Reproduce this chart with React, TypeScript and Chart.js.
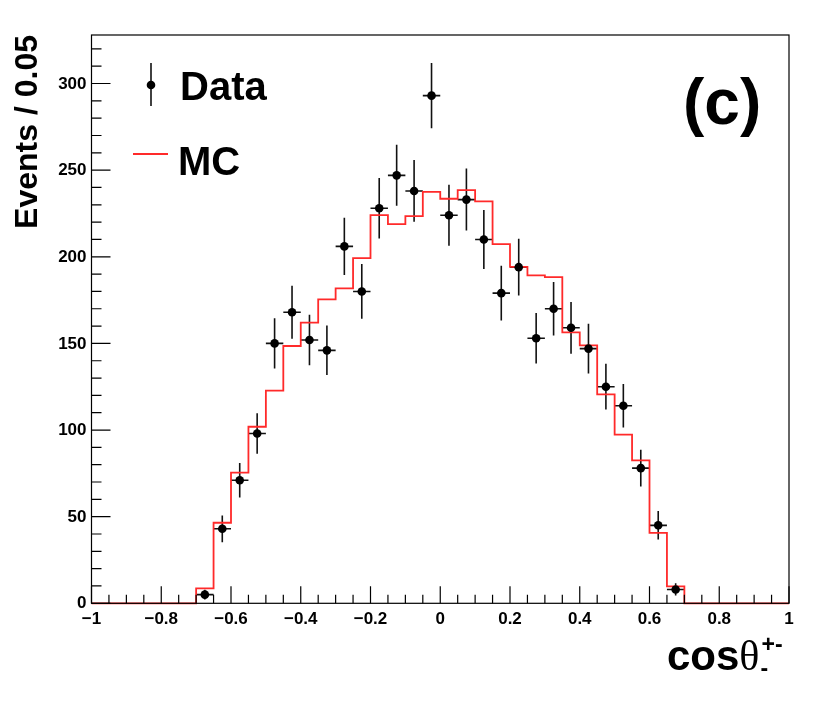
import React, { useEffect, useRef } from 'react';
import Chart from 'chart.js/auto';

// bins of 0.05 in cos(theta), only the filled range -0.7 .. 0.7
const binLow = [
  -0.7, -0.65, -0.6, -0.55, -0.5, -0.45, -0.4, -0.35, -0.3, -0.25, -0.2, -0.15, -0.1, -0.05,
  0, 0.05, 0.1, 0.15, 0.2, 0.25, 0.3, 0.35, 0.4, 0.45, 0.5, 0.55, 0.6, 0.65,
];
const dataCenters = [
  -0.675, -0.625, -0.575, -0.525, -0.475, -0.425, -0.375, -0.325, -0.275, -0.225, -0.175, -0.125, -0.075, -0.025,
  0.025, 0.075, 0.125, 0.175, 0.225, 0.275, 0.325, 0.375, 0.425, 0.475, 0.525, 0.575, 0.625, 0.675,
];
const dataCounts = [
  5, 43, 71, 98, 150, 168, 152, 146, 206, 180, 228, 247, 238, 293,
  224, 233, 210, 179, 194, 153, 170, 159, 147, 125, 114, 78, 45, 8,
];
const dataErrors = [
  2.8, 7.7, 10, 11.7, 14.5, 15.3, 14.6, 14.3, 16.5, 15.8, 17.5, 17.6, 17.8, 18.8,
  17.6, 17.9, 17, 15.8, 16.4, 14.6, 15.4, 14.9, 14.3, 13.2, 12.6, 10.6, 8.2, 3.5,
];
const mcCounts = [
  8.6, 46.5, 75.4, 101.9, 122.7, 148.5, 162, 175.4, 181.8, 199.2, 224, 218.8, 223.5, 237.5,
  233.5, 238.5, 232, 207.3, 194.2, 189.3, 188.3, 156.4, 148.9, 120.6, 97.3, 82.5, 40.7, 9.8,
];

const xTickValues = [-1, -0.8, -0.6, -0.4, -0.2, 0, 0.2, 0.4, 0.6, 0.8, 1];
const xTickLabels = ['−1', '−0.8', '−0.6', '−0.4', '−0.2', '0', '0.2', '0.4', '0.6', '0.8', '1'];
const yTickValues = [0, 50, 100, 150, 200, 250, 300];

const SANS = "'Liberation Sans', Arial, Helvetica, sans-serif";
const SERIF = "'Liberation Serif', 'Times New Roman', serif";

const rootStyle = {
  id: 'rootStyle',
  beforeDatasetsDraw(chart: any) {
    const { ctx } = chart;
    const x = chart.scales.x;
    const y = chart.scales.y;
    ctx.save();
    ctx.strokeStyle = '#111';
    ctx.lineWidth = 1.6;
    dataCenters.forEach((c, i) => {
      const px = x.getPixelForValue(c);
      const py = y.getPixelForValue(dataCounts[i]);
      const hi = y.getPixelForValue(dataCounts[i] + dataErrors[i]);
      const lo = y.getPixelForValue(Math.max(0, dataCounts[i] - dataErrors[i]));
      ctx.beginPath();
      ctx.moveTo(px, hi);
      ctx.lineTo(px, lo);
      ctx.moveTo(x.getPixelForValue(c - 0.025), py);
      ctx.lineTo(x.getPixelForValue(c + 0.025), py);
      ctx.stroke();
    });
    ctx.restore();
  },
  afterDraw(chart: any) {
    const { ctx, chartArea } = chart;
    const x = chart.scales.x;
    const y = chart.scales.y;
    const { left, right, top, bottom } = chartArea;
    ctx.save();

    // frame
    ctx.strokeStyle = '#000';
    ctx.lineWidth = 1.2;
    ctx.strokeRect(left, top, right - left, bottom - top);

    // x ticks (inward)
    ctx.beginPath();
    for (let k = 0; k <= 40; k++) {
      const v = -1 + k * 0.05;
      const px = x.getPixelForValue(v);
      const len = k % 4 === 0 ? 17 : 8.5;
      ctx.moveTo(px, bottom);
      ctx.lineTo(px, bottom - len);
    }
    // y ticks
    for (let v = 0; v <= 320; v += 10) {
      const py = y.getPixelForValue(v);
      const len = v % 50 === 0 ? 19 : 10;
      ctx.moveTo(left, py);
      ctx.lineTo(left + len, py);
    }
    ctx.stroke();

    // tick labels
    ctx.fillStyle = '#000';
    ctx.font = `bold 17px ${SANS}`;
    ctx.textAlign = 'center';
    ctx.textBaseline = 'alphabetic';
    xTickValues.forEach((v, i) => {
      ctx.fillText(xTickLabels[i], x.getPixelForValue(v), 623.5);
    });
    ctx.textAlign = 'right';
    ctx.textBaseline = 'middle';
    yTickValues.forEach((v) => {
      ctx.fillText(String(v), left - 5, y.getPixelForValue(v) + 0.5);
    });

    // y title
    ctx.save();
    ctx.translate(37, top);
    ctx.rotate(-Math.PI / 2);
    ctx.textAlign = 'right';
    ctx.textBaseline = 'alphabetic';
    ctx.font = `bold 32px ${SANS}`;
    ctx.fillText('Events / 0.05', 0, 0);
    ctx.restore();

    // x title: cos theta with sub/superscripts
    ctx.textAlign = 'left';
    ctx.textBaseline = 'alphabetic';
    ctx.font = `bold 42px ${SANS}`;
    ctx.fillText('cos', 667, 670);
    const cosW = ctx.measureText('cos').width;
    ctx.font = `42px ${SERIF}`;
    ctx.fillText('θ', 667 + cosW, 670);
    const thW = ctx.measureText('θ').width;
    ctx.font = `bold 23px ${SANS}`;
    ctx.fillText('+-', 667 + cosW + thW + 2, 652);
    ctx.fillText('-', 667 + cosW + thW + 1, 676);

    // legend
    ctx.strokeStyle = '#111';
    ctx.lineWidth = 1.6;
    ctx.beginPath();
    ctx.moveTo(151, 63);
    ctx.lineTo(151, 106);
    ctx.stroke();
    ctx.beginPath();
    ctx.arc(151, 85, 4.3, 0, Math.PI * 2);
    ctx.fill();
    ctx.strokeStyle = '#ff2a2a';
    ctx.lineWidth = 1.8;
    ctx.beginPath();
    ctx.moveTo(133, 154);
    ctx.lineTo(168, 154);
    ctx.stroke();
    ctx.font = `bold 40px ${SANS}`;
    ctx.fillText('Data', 180, 100);
    ctx.fillText('MC', 178, 175);

    // panel label
    ctx.font = `bold 64px ${SANS}`;
    ctx.fillText('(c)', 683, 124);

    ctx.restore();
  },
};

const App: React.FC = () => {
  const canvasRef = useRef<HTMLCanvasElement | null>(null);

  useEffect(() => {
    document.body.style.margin = '0';
    if (!canvasRef.current) return;
    const ctx = canvasRef.current.getContext('2d');
    if (!ctx) return;

    // MC histogram outline: each edge point holds its bin value until the next edge
    const mcPoints = [
      { x: -1, y: 0 },
      ...binLow.map((b, i) => ({ x: b, y: mcCounts[i] })),
      { x: 0.7, y: 0 },
      { x: 1, y: 0 },
    ];
    const dataPoints = dataCenters.map((c, i) => ({ x: c, y: dataCounts[i] }));

    const chart = new Chart(ctx, {
      type: 'scatter',
      data: {
        datasets: [
          {
            label: 'Data',
            data: dataPoints,
            pointRadius: 4.3,
            pointBackgroundColor: '#000',
            pointBorderColor: '#000',
            pointBorderWidth: 0,
            showLine: false,
            order: 1,
          },
          {
            label: 'MC',
            type: 'line',
            data: mcPoints,
            stepped: 'before',
            borderColor: '#ff2a2a',
            borderWidth: 1.8,
            pointRadius: 0,
            fill: false,
            clip: false,
            order: 2,
          },
        ],
      } as any,
      options: {
        responsive: false,
        animation: false,
        layout: { padding: { left: 91.5, right: 41, top: 35, bottom: 98.7 } },
        scales: {
          x: { type: 'linear', min: -1, max: 1, display: false },
          y: { type: 'linear', min: 0, max: 328, display: false },
        },
        plugins: {
          legend: { display: false },
          tooltip: { enabled: false },
        },
      } as any,
      plugins: [rootStyle],
    });

    return () => {
      chart.destroy();
    };
  }, []);

  return (
    <div style={{ width: 830, height: 702, background: '#fff' }}>
      <canvas ref={canvasRef} width={830} height={702} style={{ display: 'block' }} />
    </div>
  );
};

export default App;
